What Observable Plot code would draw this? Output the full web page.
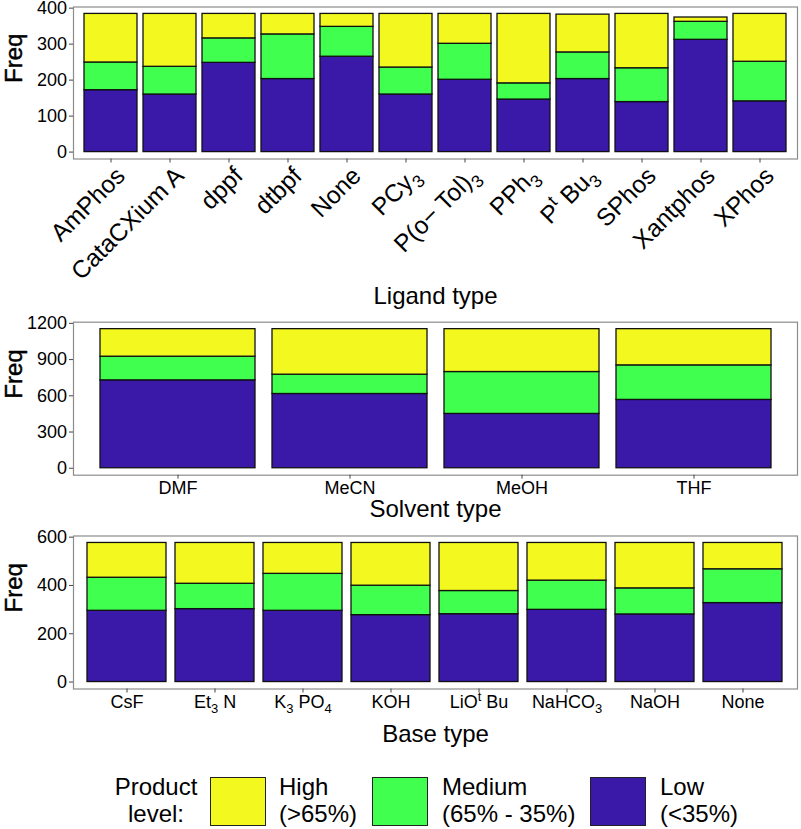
<!DOCTYPE html>
<html>
<head>
<meta charset="utf-8">
<script src="https://cdn.jsdelivr.net/npm/d3@7"></script>
<script src="https://cdn.jsdelivr.net/npm/@observablehq/plot@0.6"></script>
<style>
  html, body { margin: 0; padding: 0; background: #fff; }
  #chart { position: relative; width: 801px; height: 829px; overflow: hidden;
           font-family: "Liberation Sans", Arial, Helvetica, sans-serif; color: #000; }
  #chart svg { position: absolute; left: 0; overflow: visible; }
  .lg { position: absolute; font-size: 24px; line-height: 26.6px; white-space: nowrap; }
  .key { position: absolute; width: 56px; height: 49px; box-sizing: border-box; border: 1.2px solid #222; }
</style>
</head>
<body>
<div id="chart"></div>
<script>
// ---------- data ----------
const levels = ["High", "Medium", "Low"];
const levelLabels = ["(>65%)", "(65% - 35%)", "(<35%)"];
const levelColors = ["#F3F91E", "#40FF4F", "#3A18A8"];

const ligands = ["AmPhos", "CataCXium A", "dppf", "dtbpf", "None", "PCy3", "P(o-Tol)3", "PPh3", "PtBu3", "SPhos", "Xantphos", "XPhos"];
const ligandLabels = ["AmPhos", "CataCXium A", "dppf", "dtbpf", "None", "PCy_3", "P(o\u2212 Tol)_3", "PPh_3", "P^t Bu_3", "SPhos", "Xantphos", "XPhos"];
const ligandLow    = [172, 160, 248, 203, 265, 160, 201, 146, 203, 139, 312, 141];
const ligandMedium = [ 77,  77,  68, 124,  83,  75, 100,  45,  74,  94,  50, 110];
const ligandHigh   = [135, 147,  68,  57,  36, 149,  83, 193, 105, 151,  12, 133];

const solvents = ["DMF", "MeCN", "MeOH", "THF"];
const solventLabels = ["DMF", "MeCN", "MeOH", "THF"];
const solventLow    = [728, 615, 450, 566];
const solventMedium = [196, 160, 347, 286];
const solventHigh   = [228, 377, 355, 300];

const bases = ["CsF", "Et3N", "K3PO4", "KOH", "LiOtBu", "NaHCO3", "NaOH", "None"];
const baseLabels = ["CsF", "Et_3 N", "K_3 PO_4", "KOH", "LiO^t Bu", "NaHCO_3", "NaOH", "None"];
const baseLow    = [295, 302, 295, 277, 281, 299, 280, 327];
const baseMedium = [137, 105, 153, 122,  96, 121, 108, 140];
const baseHigh   = [144, 169, 128, 177, 199, 156, 188, 109];

const ligandTicks = [0, 100, 200, 300, 400];
const solventTicks = [0, 300, 600, 900, 1200];
const baseTicks = [0, 200, 400, 600];

// ---------- helpers ----------
const FONT = '"Liberation Sans", Arial, Helvetica, sans-serif';

function rows(cats, low, med, high) {
  return cats.flatMap((c, i) => [
    {cat: c, level: "Low", value: low[i]},
    {cat: c, level: "Medium", value: med[i]},
    {cat: c, level: "High", value: high[i]}
  ]);
}

// turn "_x" into subscript and "^x" into superscript tspans
function richify(svg) {
  svg.querySelectorAll("text").forEach(t => {
    const s = t.textContent;
    if (!/[_^]/.test(s) || t.querySelector("tspan")) return;
    const fs = parseFloat(getComputedStyle(t).fontSize) || 18;
    t.textContent = "";
    const re = /([_^])([^_^\s]+)|([^_^]+)/g;
    let m, shift = 0;
    while ((m = re.exec(s))) {
      const ts = document.createElementNS("http://www.w3.org/2000/svg", "tspan");
      if (m[3] !== undefined) {
        ts.textContent = m[3];
        if (shift) ts.setAttribute("dy", -shift);
        shift = 0;
      } else {
        ts.textContent = m[2];
        ts.setAttribute("font-size", (fs * 0.72).toFixed(1));
        const d = m[1] === "_" ? fs * 0.28 : -fs * 0.42;
        ts.setAttribute("dy", d - shift);
        shift = d;
      }
      t.appendChild(ts);
    }
  });
}

function panel({cats, labels, low, med, high, ticks, top, height, marginTop, marginBottom,
                title, titleDy, rotated, tickFont, yTickFont}) {
  const data = rows(cats, low, med, high);
  const totals = cats.map((c, i) => low[i] + med[i] + high[i]);
  const maxT = d3.max(totals);
  const labelOf = new Map(cats.map((c, i) => [c, labels[i]]));
  const marks = [
    Plot.barY(data, {x: "cat", y: "value", fill: "level", order: ["Low", "Medium", "High"],
                     stroke: "#111", strokeWidth: 1.3}),
    Plot.frame({stroke: "#8c8c8c", strokeWidth: 1.2}),
    Plot.axisY({ticks, tickSize: 4, tickPadding: 2.5, tickFormat: d3.format("d"),
                fontSize: yTickFont, label: null, stroke: "#444"}),
    Plot.text(["Freq"], {frameAnchor: "left", dx: -59, rotate: -90, fontSize: 24,
                         fill: "#000", stroke: "#000", strokeWidth: 0.45}),
    Plot.text([title], {frameAnchor: "bottom", dy: titleDy, fontSize: 24, fill: "#000"})
  ];
  if (rotated) {
    marks.push(Plot.axisX({tickSize: 4, tickFormat: () => "", label: null, stroke: "#444"}));
    marks.push(Plot.text(cats, {x: d => d, text: d => labelOf.get(d), frameAnchor: "bottom",
                                rotate: -45, textAnchor: "end", lineAnchor: "top",
                                dx: 3, dy: 6, fontSize: tickFont, fill: "#000"}));
  } else {
    marks.push(Plot.axisX({tickSize: 4, tickPadding: 2.5, tickFormat: d => labelOf.get(d),
                           fontSize: tickFont, label: null, stroke: "#444"}));
  }
  const svg = Plot.plot({
    width: 801, height, marginLeft: 73, marginRight: 4, marginTop, marginBottom,
    style: {fontFamily: FONT, background: "transparent", color: "#000", overflow: "visible"},
    x: {domain: cats, paddingInner: 0.1, paddingOuter: 0.15, align: 0.5},
    y: {domain: [-0.05 * maxT, 1.05 * maxT]},
    color: {domain: levels, range: levelColors},
    marks
  });
  svg.style.top = top + "px";
  document.getElementById("chart").appendChild(svg);
  richify(svg);
  return svg;
}

panel({cats: ligands, labels: ligandLabels, low: ligandLow, med: ligandMedium, high: ligandHigh,
       ticks: ligandTicks, top: 0, height: 320, marginTop: 6.5, marginBottom: 161.5,
       title: "Ligand type", titleDy: 145, rotated: true, tickFont: 24.5, yTickFont: 18});
panel({cats: solvents, labels: solventLabels, low: solventLow, med: solventMedium, high: solventHigh,
       ticks: solventTicks, top: 316, height: 210, marginTop: 5.7, marginBottom: 51.3,
       title: "Solvent type", titleDy: 41.5, rotated: false, tickFont: 18, yTickFont: 18});
panel({cats: bases, labels: baseLabels, low: baseLow, med: baseMedium, high: baseHigh,
       ticks: baseTicks, top: 530, height: 220, marginTop: 5.5, marginBottom: 61.5,
       title: "Base type", titleDy: 52.5, rotated: false, tickFont: 18, yTickFont: 18});

// ---------- legend ----------
const chart = document.getElementById("chart");
const lgTitle = document.createElement("div");
lgTitle.className = "lg";
lgTitle.style.cssText = "left:96px;top:774px;width:120px;text-align:center;";
lgTitle.innerHTML = "Product<br>level:";
chart.appendChild(lgTitle);
const keyX = [210, 372, 590];
const textX = [279, 442, 660];
levels.forEach((lv, i) => {
  const k = document.createElement("div");
  k.className = "key";
  k.style.left = keyX[i] + "px";
  k.style.top = "777px";
  k.style.background = levelColors[i];
  chart.appendChild(k);
  const t = document.createElement("div");
  t.className = "lg";
  t.style.left = textX[i] + "px";
  t.style.top = "774px";
  t.innerHTML = lv + "<br>" + levelLabels[i];
  chart.appendChild(t);
});
</script>
</body>
</html>
